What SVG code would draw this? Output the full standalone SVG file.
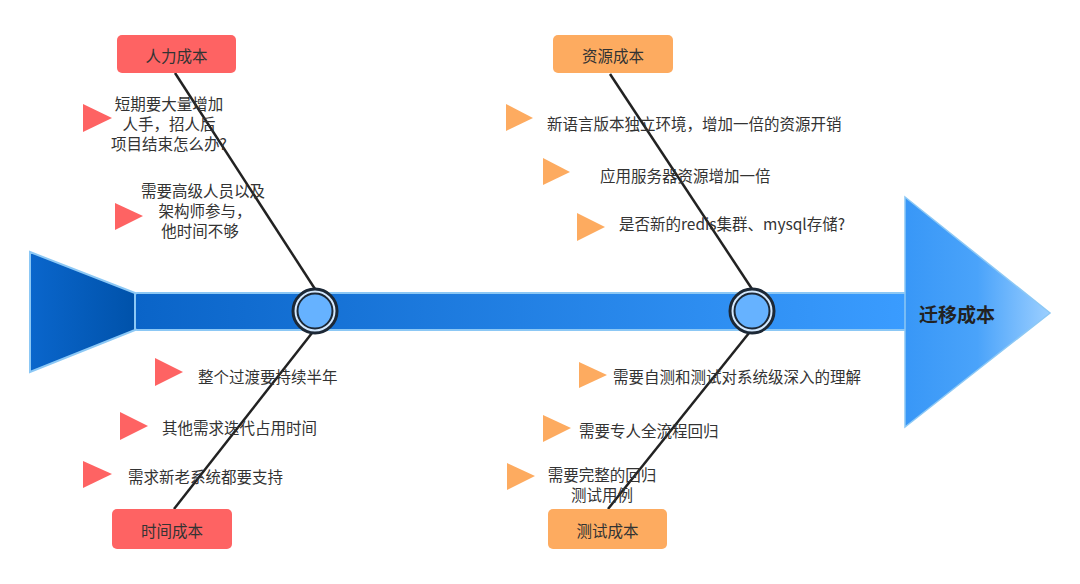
<svg xmlns="http://www.w3.org/2000/svg" width="1080" height="584" viewBox="0 0 1080 584">
<defs>
<linearGradient id="gTail" x1="0" y1="0" x2="1" y2="0"><stop offset="0" stop-color="#0a66cc"/><stop offset="1" stop-color="#0052aa"/></linearGradient>
<linearGradient id="gBar" x1="0" y1="0" x2="1" y2="0"><stop offset="0" stop-color="#0a64c8"/><stop offset="1" stop-color="#3a9cff"/></linearGradient>
<linearGradient id="gHead" x1="0" y1="0" x2="1" y2="0"><stop offset="0" stop-color="#3897f7"/><stop offset="0.5" stop-color="#4aa3fa"/><stop offset="1" stop-color="#9ccfff"/></linearGradient>
<style>
.t{font-family:"Noto Sans CJK SC","Noto Sans",sans-serif;font-size:15.5px;fill:#333;dominant-baseline:central}
.c{text-anchor:middle}
.red{fill:#fe6363}
.org{fill:#fdab60}
.bone{stroke:#222;stroke-width:2.5;fill:none}
.ring{fill:#d4e9ff;stroke:#1c2836;stroke-width:3}
.core{fill:#66b2ff;stroke:#1c2836;stroke-width:2}
</style>
</defs>
<rect width="1080" height="584" fill="#fff"/>
<g id="spine">
<polygon points="30,252 135,293 135,330 30,372" fill="url(#gTail)" stroke="#8cc8f5" stroke-width="2"/>
<rect x="135" y="293" width="772" height="37" rx="2" fill="url(#gBar)" stroke="#8cc8f5" stroke-width="2"/>
<polygon points="905,197 1050,313 905,427" fill="url(#gHead)" stroke="#8cc8f5" stroke-width="1.5"/>
<text class="t c" x="957" y="313" style="font-size:19px;font-weight:bold;fill:#222">迁移成本</text>
</g>
<g id="connectors">
<line class="bone" x1="175" y1="73" x2="315" y2="289"/>
<line class="bone" x1="312" y1="333" x2="174" y2="509"/>
<line class="bone" x1="610" y1="74" x2="752" y2="289"/>
<line class="bone" x1="749" y1="333" x2="608" y2="509"/>
</g>
<g id="joint-left">
<circle class="ring" cx="315" cy="311" r="22"/>
<circle class="core" cx="315" cy="311" r="17.5"/>
</g>
<g id="joint-right">
<circle class="ring" cx="752" cy="311" r="22"/>
<circle class="core" cx="752" cy="311" r="17.5"/>
</g>
<g id="node-renli">
<rect x="117" y="35" width="119" height="38" rx="5" class="red"/>
<text class="t c" x="176.5" y="55">人力成本</text>
</g>
<g id="node-ziyuan">
<rect x="553" y="35" width="120" height="38" rx="5" class="org"/>
<text class="t c" x="613" y="55">资源成本</text>
</g>
<g id="node-shijian">
<rect x="112" y="509" width="120" height="40" rx="5" class="red"/>
<text class="t c" x="172" y="530">时间成本</text>
</g>
<g id="node-ceshi">
<rect x="548" y="509" width="119" height="40" rx="5" class="org"/>
<text class="t c" x="607.5" y="530">测试成本</text>
</g>
<g id="item-r1">
<polygon points="83,104 112,118 83,132" class="red"/>
<text class="t c"><tspan x="169" y="103">短期要大量增加</tspan><tspan x="169" y="123">人手，招人后</tspan><tspan x="169" y="143">项目结束怎么办?</tspan></text>
</g>
<g id="item-r2">
<polygon points="115,203 143,216 115,230" class="red"/>
<text class="t c"><tspan x="203" y="190">需要高级人员以及</tspan><tspan x="205" y="210">架构师参与，</tspan><tspan x="200" y="230">他时间不够</tspan></text>
</g>
<g id="item-t1">
<polygon points="155,358 183,372 155,386" class="red"/>
<text class="t" x="198" y="376">整个过渡要持续半年</text>
</g>
<g id="item-t2">
<polygon points="120,412 148,426 120,440" class="red"/>
<text class="t" x="162" y="427">其他需求迭代占用时间</text>
</g>
<g id="item-t3">
<polygon points="83,461 112,474 83,488" class="red"/>
<text class="t" x="128" y="476">需求新老系统都要支持</text>
</g>
<g id="item-z1">
<polygon points="506,104 533,118 506,131" class="org"/>
<text class="t" x="547" y="123">新语言版本独立环境，增加一倍的资源开销</text>
</g>
<g id="item-z2">
<polygon points="543,158 570,172 543,185" class="org"/>
<text class="t" x="600" y="175">应用服务器资源增加一倍</text>
</g>
<g id="item-z3">
<polygon points="577,213 605,227 577,241" class="org"/>
<text class="t" x="619" y="223">是否新的redis集群、mysql存储?</text>
</g>
<g id="item-c1">
<polygon points="579,362 607,375 579,388" class="org"/>
<text class="t" x="613" y="376">需要自测和测试对系统级深入的理解</text>
</g>
<g id="item-c2">
<polygon points="543,415 571,428 543,442" class="org"/>
<text class="t" x="579" y="430">需要专人全流程回归</text>
</g>
<g id="item-c3">
<polygon points="507,463 535,476 507,490" class="org"/>
<text class="t c"><tspan x="602" y="474">需要完整的回归</tspan><tspan x="602" y="494">测试用例</tspan></text>
</g>
</svg>
